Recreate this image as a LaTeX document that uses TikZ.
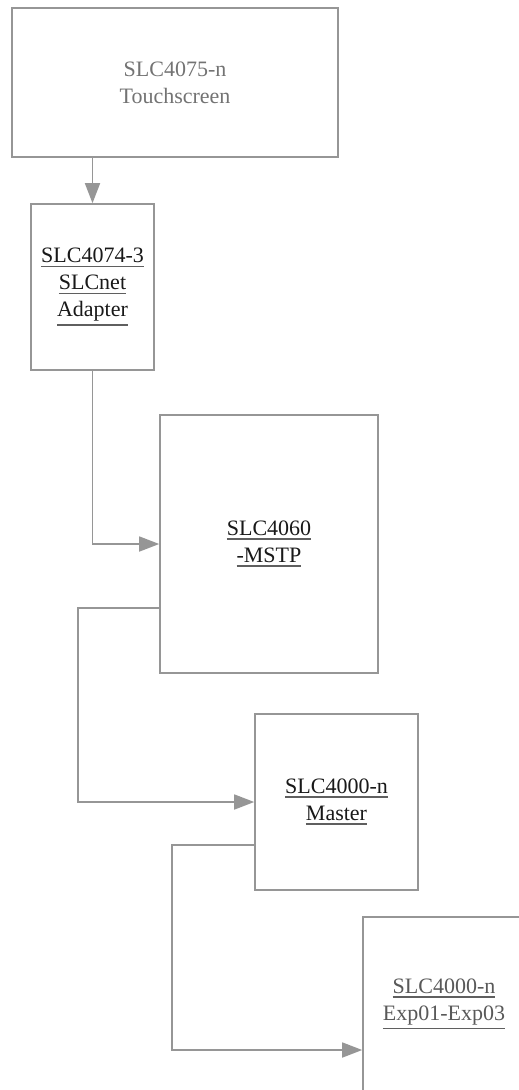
\documentclass[tikz,border=0pt]{standalone}
\usepackage{fontspec}
\setmainfont{Liberation Serif}
\usepackage{tikz}
\usetikzlibrary{arrows.meta}

\definecolor{boxgray}{RGB}{150,150,150}
\definecolor{ulgray}{RGB}{95,95,95}
\newlength\ulwidth
\newcommand{\ulin}[1]{\settowidth{\ulwidth}{#1}%
  \vtop{\offinterlineskip\hbox{#1}\kern2.5pt\hbox{\color{ulgray}\rule{\ulwidth}{1.7pt}}}}

\begin{document}
\begin{tikzpicture}[x=1pt,y=-1pt,
    unit/.style={draw=boxgray,line width=1.6pt,fill=white,inner sep=0pt,
      align=center,font=\fontsize{22}{27}\selectfont,text=black!90},
    conn/.style={draw=boxgray,line width=1.6pt,
      -{Triangle[length=20pt,width=15pt]}}]
          \clip (0,0) rectangle (519,1090);
          \fill [white] (0,0) rectangle (519,1090);
          \node [unit,text=black!55,minimum width=326pt,minimum height=149pt]
            (ts) at (175,82.5) {SLC4075-n\\Touchscreen};
          \node [unit,minimum width=123pt,minimum height=166pt]
            (adapter) at (92.5,287) {\ulin{SLC4074-3}\\\ulin{SLCnet}\\\ulin{Adapter}};
          \node [unit,minimum width=218pt,minimum height=258pt]
            (mstp) at (269,544) {\ulin{SLC4060}\\\ulin{-MSTP}};
          \node [unit,minimum width=163pt,minimum height=176pt]
            (master) at (336.5,802) {\ulin{SLC4000-n}\\\ulin{Master}};
          \node [unit,text=black!65,minimum width=162pt,minimum height=174pt]
            (exp) at (444,1004) {\ulin{SLC4000-n}\\\ulin{Exp01-Exp03}};
          \draw [conn] (adapter |- ts.south) -- (adapter.north);
          \draw [conn] (adapter.south) |- (mstp.west);
          \draw [conn] ([yshift=-64pt]mstp.west) -- ++(-81,0)
            |- (master.west);
          \draw [conn] ([yshift=-43pt]master.west) -- ++(-82,0)
            |- ([yshift=-46pt]exp.west);
        \end{tikzpicture}
\end{document}
